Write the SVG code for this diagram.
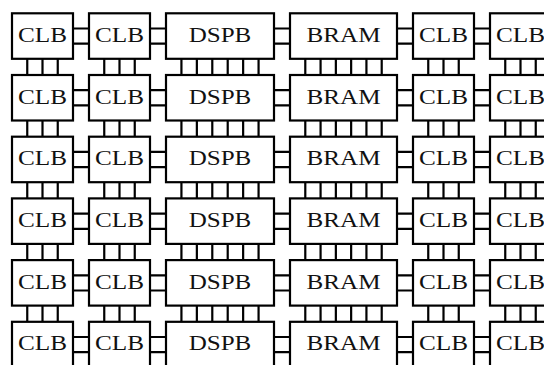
<svg xmlns="http://www.w3.org/2000/svg" width="544" height="365" viewBox="0 0 544 365">
<style>
rect{fill:#fff;stroke:#000;stroke-width:2.2}
text{font-family:"Liberation Serif","Times New Roman",serif;font-size:20px;text-anchor:middle;fill:#111}
.w path{fill:none;stroke:#000;stroke-width:2.2}
</style>
<g class="w" id="connectors">
<path d="M27.25 58.8v16.2m0 45.5v16.2m0 45.5v16.2m0 45.5v16.2m0 45.5v16.2M42.5 58.8v16.2m0 45.5v16.2m0 45.5v16.2m0 45.5v16.2m0 45.5v16.2M57.75 58.8v16.2m0 45.5v16.2m0 45.5v16.2m0 45.5v16.2m0 45.5v16.2M104.25 58.8v16.2m0 45.5v16.2m0 45.5v16.2m0 45.5v16.2m0 45.5v16.2M119.5 58.8v16.2m0 45.5v16.2m0 45.5v16.2m0 45.5v16.2m0 45.5v16.2M134.75 58.8v16.2m0 45.5v16.2m0 45.5v16.2m0 45.5v16.2m0 45.5v16.2M181.43 58.8v16.2m0 45.5v16.2m0 45.5v16.2m0 45.5v16.2m0 45.5v16.2M196.86 58.8v16.2m0 45.5v16.2m0 45.5v16.2m0 45.5v16.2m0 45.5v16.2M212.29 58.8v16.2m0 45.5v16.2m0 45.5v16.2m0 45.5v16.2m0 45.5v16.2M227.71 58.8v16.2m0 45.5v16.2m0 45.5v16.2m0 45.5v16.2m0 45.5v16.2M243.14 58.8v16.2m0 45.5v16.2m0 45.5v16.2m0 45.5v16.2m0 45.5v16.2M258.57 58.8v16.2m0 45.5v16.2m0 45.5v16.2m0 45.5v16.2m0 45.5v16.2M305.29 58.8v16.2m0 45.5v16.2m0 45.5v16.2m0 45.5v16.2m0 45.5v16.2M320.57 58.8v16.2m0 45.5v16.2m0 45.5v16.2m0 45.5v16.2m0 45.5v16.2M335.86 58.8v16.2m0 45.5v16.2m0 45.5v16.2m0 45.5v16.2m0 45.5v16.2M351.14 58.8v16.2m0 45.5v16.2m0 45.5v16.2m0 45.5v16.2m0 45.5v16.2M366.43 58.8v16.2m0 45.5v16.2m0 45.5v16.2m0 45.5v16.2m0 45.5v16.2M381.71 58.8v16.2m0 45.5v16.2m0 45.5v16.2m0 45.5v16.2m0 45.5v16.2M428.25 58.8v16.2m0 45.5v16.2m0 45.5v16.2m0 45.5v16.2m0 45.5v16.2M443.5 58.8v16.2m0 45.5v16.2m0 45.5v16.2m0 45.5v16.2m0 45.5v16.2M458.75 58.8v16.2m0 45.5v16.2m0 45.5v16.2m0 45.5v16.2m0 45.5v16.2M505.25 58.8v16.2m0 45.5v16.2m0 45.5v16.2m0 45.5v16.2m0 45.5v16.2M520.5 58.8v16.2m0 45.5v16.2m0 45.5v16.2m0 45.5v16.2m0 45.5v16.2M535.75 58.8v16.2m0 45.5v16.2m0 45.5v16.2m0 45.5v16.2m0 45.5v16.2"/>
<path d="M73 28.5h16m-16 15.2h16m-16 46.5h16m-16 15.2h16m-16 46.5h16m-16 15.2h16m-16 46.5h16m-16 15.2h16m-16 46.5h16m-16 15.2h16m-16 46.5h16m-16 15.2h16M150 28.5h16m-16 15.2h16m-16 46.5h16m-16 15.2h16m-16 46.5h16m-16 15.2h16m-16 46.5h16m-16 15.2h16m-16 46.5h16m-16 15.2h16m-16 46.5h16m-16 15.2h16M274 28.5h16m-16 15.2h16m-16 46.5h16m-16 15.2h16m-16 46.5h16m-16 15.2h16m-16 46.5h16m-16 15.2h16m-16 46.5h16m-16 15.2h16m-16 46.5h16m-16 15.2h16M397 28.5h16m-16 15.2h16m-16 46.5h16m-16 15.2h16m-16 46.5h16m-16 15.2h16m-16 46.5h16m-16 15.2h16m-16 46.5h16m-16 15.2h16m-16 46.5h16m-16 15.2h16M474 28.5h16m-16 15.2h16m-16 46.5h16m-16 15.2h16m-16 46.5h16m-16 15.2h16m-16 46.5h16m-16 15.2h16m-16 46.5h16m-16 15.2h16m-16 46.5h16m-16 15.2h16"/>
</g>
<g id="r1c1"><rect x="12" y="13.3" width="61" height="45.5"/><text x="42.5" y="41.9" textLength="49" lengthAdjust="spacingAndGlyphs">CLB</text></g>
<g id="r1c2"><rect x="89" y="13.3" width="61" height="45.5"/><text x="119.5" y="41.9" textLength="49" lengthAdjust="spacingAndGlyphs">CLB</text></g>
<g id="r1c3"><rect x="166" y="13.3" width="108" height="45.5"/><text x="220" y="41.9" textLength="62.7" lengthAdjust="spacingAndGlyphs">DSPB</text></g>
<g id="r1c4"><rect x="290" y="13.3" width="107" height="45.5"/><text x="343.5" y="41.9" textLength="74" lengthAdjust="spacingAndGlyphs">BRAM</text></g>
<g id="r1c5"><rect x="413" y="13.3" width="61" height="45.5"/><text x="443.5" y="41.9" textLength="49" lengthAdjust="spacingAndGlyphs">CLB</text></g>
<g id="r1c6"><rect x="490" y="13.3" width="61" height="45.5"/><text x="520.5" y="41.9" textLength="49" lengthAdjust="spacingAndGlyphs">CLB</text></g>
<g id="r2c1"><rect x="12" y="75" width="61" height="45.5"/><text x="42.5" y="103.6" textLength="49" lengthAdjust="spacingAndGlyphs">CLB</text></g>
<g id="r2c2"><rect x="89" y="75" width="61" height="45.5"/><text x="119.5" y="103.6" textLength="49" lengthAdjust="spacingAndGlyphs">CLB</text></g>
<g id="r2c3"><rect x="166" y="75" width="108" height="45.5"/><text x="220" y="103.6" textLength="62.7" lengthAdjust="spacingAndGlyphs">DSPB</text></g>
<g id="r2c4"><rect x="290" y="75" width="107" height="45.5"/><text x="343.5" y="103.6" textLength="74" lengthAdjust="spacingAndGlyphs">BRAM</text></g>
<g id="r2c5"><rect x="413" y="75" width="61" height="45.5"/><text x="443.5" y="103.6" textLength="49" lengthAdjust="spacingAndGlyphs">CLB</text></g>
<g id="r2c6"><rect x="490" y="75" width="61" height="45.5"/><text x="520.5" y="103.6" textLength="49" lengthAdjust="spacingAndGlyphs">CLB</text></g>
<g id="r3c1"><rect x="12" y="136.7" width="61" height="45.5"/><text x="42.5" y="165.3" textLength="49" lengthAdjust="spacingAndGlyphs">CLB</text></g>
<g id="r3c2"><rect x="89" y="136.7" width="61" height="45.5"/><text x="119.5" y="165.3" textLength="49" lengthAdjust="spacingAndGlyphs">CLB</text></g>
<g id="r3c3"><rect x="166" y="136.7" width="108" height="45.5"/><text x="220" y="165.3" textLength="62.7" lengthAdjust="spacingAndGlyphs">DSPB</text></g>
<g id="r3c4"><rect x="290" y="136.7" width="107" height="45.5"/><text x="343.5" y="165.3" textLength="74" lengthAdjust="spacingAndGlyphs">BRAM</text></g>
<g id="r3c5"><rect x="413" y="136.7" width="61" height="45.5"/><text x="443.5" y="165.3" textLength="49" lengthAdjust="spacingAndGlyphs">CLB</text></g>
<g id="r3c6"><rect x="490" y="136.7" width="61" height="45.5"/><text x="520.5" y="165.3" textLength="49" lengthAdjust="spacingAndGlyphs">CLB</text></g>
<g id="r4c1"><rect x="12" y="198.4" width="61" height="45.5"/><text x="42.5" y="227" textLength="49" lengthAdjust="spacingAndGlyphs">CLB</text></g>
<g id="r4c2"><rect x="89" y="198.4" width="61" height="45.5"/><text x="119.5" y="227" textLength="49" lengthAdjust="spacingAndGlyphs">CLB</text></g>
<g id="r4c3"><rect x="166" y="198.4" width="108" height="45.5"/><text x="220" y="227" textLength="62.7" lengthAdjust="spacingAndGlyphs">DSPB</text></g>
<g id="r4c4"><rect x="290" y="198.4" width="107" height="45.5"/><text x="343.5" y="227" textLength="74" lengthAdjust="spacingAndGlyphs">BRAM</text></g>
<g id="r4c5"><rect x="413" y="198.4" width="61" height="45.5"/><text x="443.5" y="227" textLength="49" lengthAdjust="spacingAndGlyphs">CLB</text></g>
<g id="r4c6"><rect x="490" y="198.4" width="61" height="45.5"/><text x="520.5" y="227" textLength="49" lengthAdjust="spacingAndGlyphs">CLB</text></g>
<g id="r5c1"><rect x="12" y="260.1" width="61" height="45.5"/><text x="42.5" y="288.7" textLength="49" lengthAdjust="spacingAndGlyphs">CLB</text></g>
<g id="r5c2"><rect x="89" y="260.1" width="61" height="45.5"/><text x="119.5" y="288.7" textLength="49" lengthAdjust="spacingAndGlyphs">CLB</text></g>
<g id="r5c3"><rect x="166" y="260.1" width="108" height="45.5"/><text x="220" y="288.7" textLength="62.7" lengthAdjust="spacingAndGlyphs">DSPB</text></g>
<g id="r5c4"><rect x="290" y="260.1" width="107" height="45.5"/><text x="343.5" y="288.7" textLength="74" lengthAdjust="spacingAndGlyphs">BRAM</text></g>
<g id="r5c5"><rect x="413" y="260.1" width="61" height="45.5"/><text x="443.5" y="288.7" textLength="49" lengthAdjust="spacingAndGlyphs">CLB</text></g>
<g id="r5c6"><rect x="490" y="260.1" width="61" height="45.5"/><text x="520.5" y="288.7" textLength="49" lengthAdjust="spacingAndGlyphs">CLB</text></g>
<g id="r6c1"><rect x="12" y="321.8" width="61" height="45.5"/><text x="42.5" y="350.4" textLength="49" lengthAdjust="spacingAndGlyphs">CLB</text></g>
<g id="r6c2"><rect x="89" y="321.8" width="61" height="45.5"/><text x="119.5" y="350.4" textLength="49" lengthAdjust="spacingAndGlyphs">CLB</text></g>
<g id="r6c3"><rect x="166" y="321.8" width="108" height="45.5"/><text x="220" y="350.4" textLength="62.7" lengthAdjust="spacingAndGlyphs">DSPB</text></g>
<g id="r6c4"><rect x="290" y="321.8" width="107" height="45.5"/><text x="343.5" y="350.4" textLength="74" lengthAdjust="spacingAndGlyphs">BRAM</text></g>
<g id="r6c5"><rect x="413" y="321.8" width="61" height="45.5"/><text x="443.5" y="350.4" textLength="49" lengthAdjust="spacingAndGlyphs">CLB</text></g>
<g id="r6c6"><rect x="490" y="321.8" width="61" height="45.5"/><text x="520.5" y="350.4" textLength="49" lengthAdjust="spacingAndGlyphs">CLB</text></g>
</svg>
